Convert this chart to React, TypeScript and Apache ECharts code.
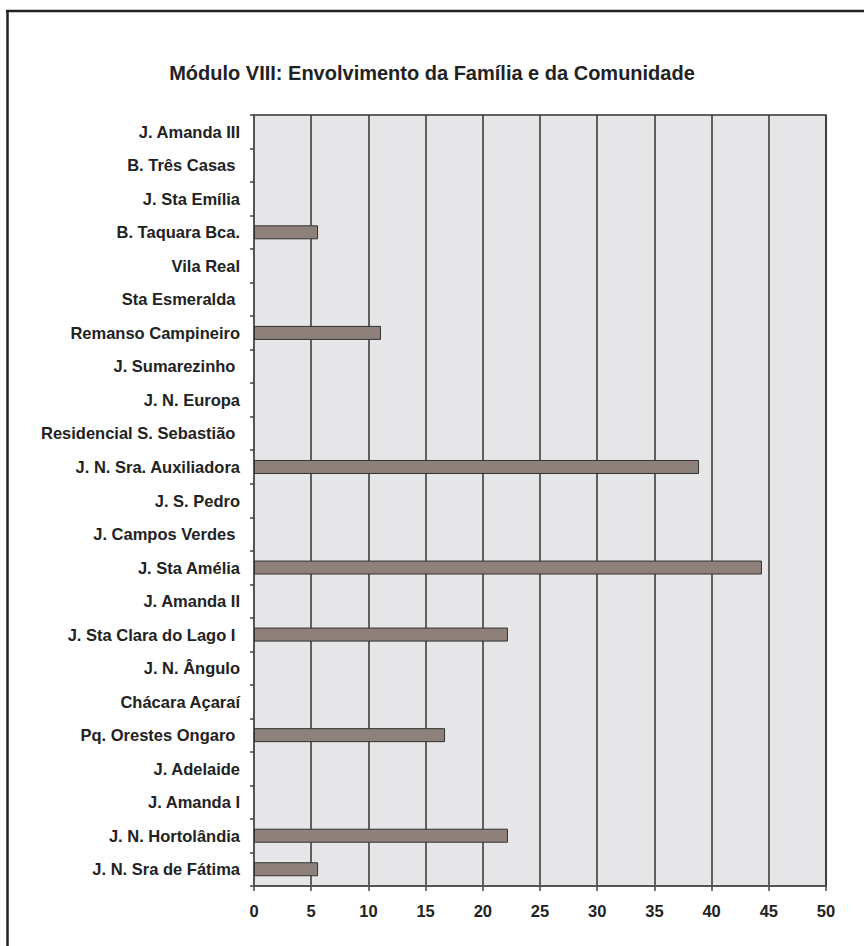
import React, { useEffect, useRef } from "react";
import * as echarts from "echarts";

const TITLE = "Módulo VIII: Envolvimento da Família e da Comunidade";

const categories = [
  "J. Amanda III",
  "B. Três Casas ",
  "J. Sta Emília",
  "B. Taquara Bca.",
  "Vila Real",
  "Sta Esmeralda ",
  "Remanso Campineiro",
  "J. Sumarezinho ",
  "J. N. Europa",
  "Residencial S. Sebastião ",
  "J. N. Sra. Auxiliadora",
  "J. S. Pedro",
  "J. Campos Verdes ",
  "J. Sta Amélia",
  "J. Amanda II",
  "J. Sta Clara do Lago I ",
  "J. N. Ângulo",
  "Chácara Açaraí",
  "Pq. Orestes Ongaro ",
  "J. Adelaide",
  "J. Amanda I",
  "J. N. Hortolândia",
  "J. N. Sra de Fátima",
];

const values = [
  0, 0, 0, 5.6, 0, 0, 11.1, 0, 0, 0, 38.9, 0, 0, 44.4, 0, 22.2, 0, 0, 16.7, 0, 0, 22.2, 5.6,
];

const xTicks = { min: 0, max: 50, interval: 5 };

const FONT = "'Liberation Sans', Arial, Helvetica, sans-serif";

export default function App() {
  const ref = useRef<HTMLDivElement>(null);
  useEffect(() => {
    if (!ref.current) return;
    const chart = echarts.init(ref.current, undefined, { renderer: "svg" });
    chart.setOption({
      animation: false,
      backgroundColor: "#ffffff",
      title: {
        text: TITLE,
        left: "center",
        top: 58,
        textStyle: { fontFamily: FONT, fontSize: 20, fontWeight: "bold", color: "#222" },
      },
      grid: {
        left: 254,
        right: 38,
        top: 115,
        bottom: 60,
        show: true,
        backgroundColor: "#e6e6e8",
        borderColor: "#333",
        borderWidth: 1.5,
      },
      xAxis: {
        type: "value",
        min: xTicks.min,
        max: xTicks.max,
        interval: xTicks.interval,
        axisLine: { show: true, lineStyle: { color: "#555", width: 2 } },
        axisTick: { show: true, length: 5, lineStyle: { color: "#444", width: 1.5 } },
        axisLabel: {
          fontFamily: FONT,
          fontSize: 16.5,
          fontWeight: "bold",
          color: "#222",
          margin: 16,
        },
        splitLine: { show: true, lineStyle: { color: "#333", width: 1.5 } },
      },
      yAxis: {
        type: "category",
        inverse: true,
        data: categories,
        axisLine: { show: true, lineStyle: { color: "#555", width: 2 } },
        axisTick: { show: true, length: 4, lineStyle: { color: "#444", width: 1.5 } },
        axisLabel: {
          fontFamily: FONT,
          fontSize: 16.5,
          fontWeight: "bold",
          color: "#222",
          margin: 14,
        },
        splitLine: { show: false },
      },
      series: [
        {
          type: "bar",
          data: values.map((v) => (v === 0 ? "-" : v)),
          barWidth: 14,
          itemStyle: { color: "#8e807b", borderColor: "#333", borderWidth: 1 },
        },
      ],
      graphic: [
        {
          type: "line",
          shape: { x1: 6, y1: 11, x2: 864, y2: 11 },
          style: { stroke: "#222", lineWidth: 2.5 },
        },
        {
          type: "line",
          shape: { x1: 7.5, y1: 10, x2: 7.5, y2: 946 },
          style: { stroke: "#222", lineWidth: 2.5 },
        },
      ],
    });
    return () => chart.dispose();
  }, []);
  return (
    <div
      ref={ref}
      style={{ position: "fixed", left: 0, top: 0, width: 864, height: 946 }}
    />
  );
}
